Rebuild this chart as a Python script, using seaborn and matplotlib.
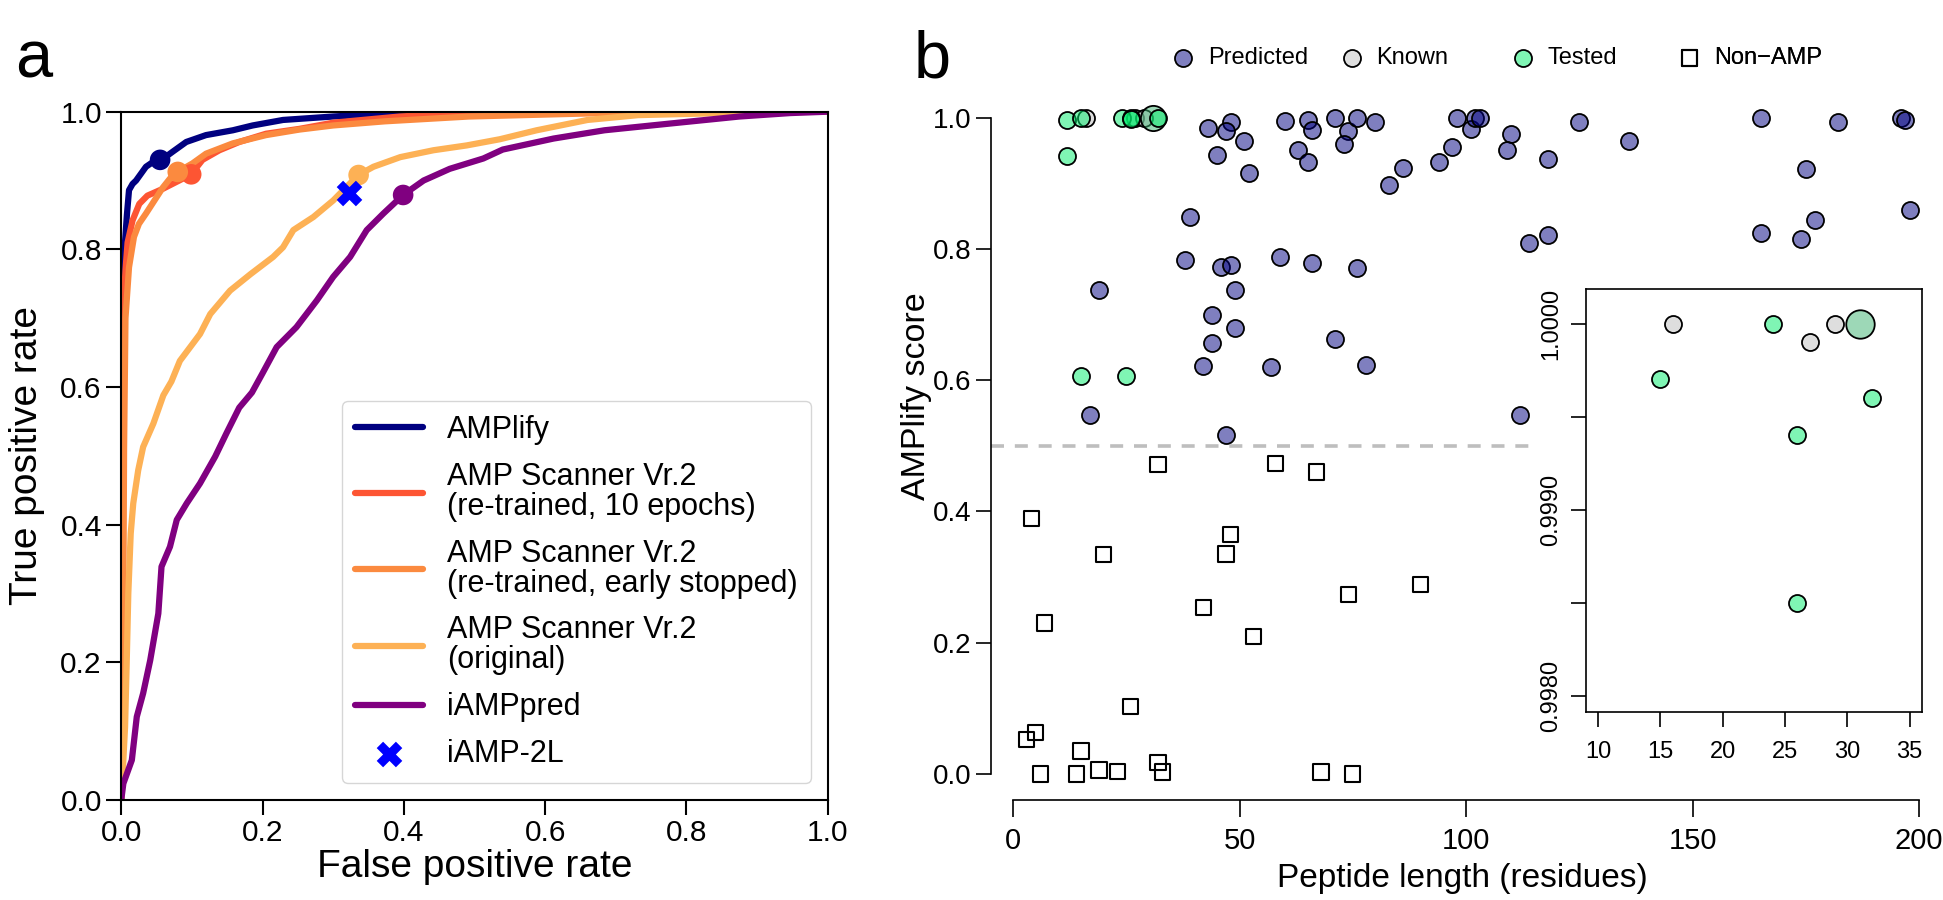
import matplotlib
matplotlib.use("Agg")
import matplotlib.pyplot as plt
import seaborn as sns

# ---- panel a: ROC curves ----
amplify_fpr = [0, 0.001, 0.002, 0.004, 0.008, 0.011, 0.016, 0.021, 0.028, 0.035, 0.045, 0.055,
               0.065, 0.073, 0.092, 0.12, 0.158, 0.186, 0.229, 0.30, 0.394, 0.44, 1.0]
amplify_tpr = [0, 0.45, 0.70, 0.79, 0.85, 0.886, 0.895, 0.90, 0.91, 0.92, 0.927, 0.932,
               0.936, 0.942, 0.956, 0.966, 0.973, 0.98, 0.988, 0.993, 0.998, 1.0, 1.0]

scan10_fpr = [0, 0.002, 0.003, 0.004, 0.006, 0.009, 0.016, 0.0255, 0.037, 0.059, 0.082, 0.099,
              0.115, 0.139, 0.167, 0.205, 0.252, 0.30, 0.394, 0.488, 0.55, 1.0]
scan10_tpr = [0, 0.30, 0.60, 0.73, 0.77, 0.81, 0.842, 0.866, 0.878, 0.888, 0.90, 0.909,
              0.93, 0.944, 0.956, 0.968, 0.975, 0.984, 0.993, 0.998, 1.0, 1.0]

scanes_fpr = [0, 0.003, 0.004, 0.006, 0.011, 0.018, 0.025, 0.035, 0.047, 0.059, 0.073, 0.08,
              0.101, 0.12, 0.158, 0.205, 0.252, 0.30, 0.373, 0.492, 0.683, 0.875, 1.0]
scanes_tpr = [0, 0.30, 0.51, 0.70, 0.774, 0.818, 0.837, 0.852, 0.871, 0.89, 0.908, 0.9125,
              0.925, 0.939, 0.954, 0.966, 0.974, 0.98, 0.986, 0.993, 0.998, 1.0, 1.0]

scanorig_fpr = [0, 0.002, 0.0054, 0.0078, 0.010, 0.0134, 0.017, 0.024, 0.031, 0.0455, 0.0596, 0.071,
                0.083, 0.1115, 0.126, 0.154, 0.183, 0.215, 0.229, 0.2436, 0.272, 0.300, 0.324, 0.3357,
                0.357, 0.395, 0.442, 0.489, 0.536, 0.588, 0.66, 0.7315, 0.875, 1.0]
scanorig_tpr = [0, 0.039, 0.106, 0.203, 0.30, 0.387, 0.431, 0.479, 0.513, 0.547, 0.588, 0.608,
                0.638, 0.677, 0.706, 0.740, 0.764, 0.789, 0.803, 0.828, 0.847, 0.871, 0.896, 0.908,
                0.920, 0.934, 0.944, 0.951, 0.960, 0.973, 0.988, 0.995, 0.9986, 1.0]

iamppred_fpr = [0, 0.003, 0.015, 0.022, 0.031, 0.041, 0.0525, 0.057, 0.069, 0.0786, 0.0927, 0.1115,
                0.133, 0.149, 0.167, 0.185, 0.200, 0.22, 0.248, 0.277, 0.300, 0.324, 0.3475, 0.371,
                0.399, 0.428, 0.465, 0.5125, 0.54, 0.612, 0.684, 0.779, 0.875, 0.947, 1.0]
iamppred_tpr = [0, 0.024, 0.058, 0.121, 0.155, 0.203, 0.271, 0.339, 0.368, 0.407, 0.431, 0.46,
                0.499, 0.533, 0.570, 0.592, 0.620, 0.658, 0.687, 0.726, 0.760, 0.789, 0.828, 0.852,
                0.879, 0.90, 0.917, 0.932, 0.945, 0.961, 0.973, 0.983, 0.993, 0.998, 1.0]

roc_names = ["AMPlify", "AMP Scanner Vr.2\n(re-trained, 10 epochs)",
             "AMP Scanner Vr.2\n(re-trained, early stopped)", "AMP Scanner Vr.2\n(original)", "iAMPpred"]
roc_colors = ["#000080", "#fd5533", "#fb8a3f", "#fdb155", "#800080"]

# operating points (0.5 threshold) on each curve
op_fpr = [0.055, 0.099, 0.08, 0.336, 0.399]
op_tpr = [0.930, 0.909, 0.9125, 0.908, 0.879]

iamp2l_fpr = [0.322]
iamp2l_tpr = [0.882]

# ---- panel b: AMPlify score vs peptide length ----
pred_len = [43, 48, 47, 45, 51, 52, 60, 65, 66, 63, 65, 71, 74, 73, 76, 80, 83, 86, 94, 97,
            98, 101, 102, 103, 110, 109, 118, 125, 136, 165, 182, 196, 197, 175, 198, 177, 165, 174,
            118, 114, 112, 39, 38, 46, 48, 59, 66, 76, 19, 49, 44, 49, 71, 44, 42, 57, 78, 17, 47]
pred_score = [0.985, 0.994, 0.980, 0.944, 0.964, 0.916, 0.995, 0.996, 0.982, 0.951, 0.933, 1.0,
              0.980, 0.960, 0.999, 0.994, 0.898, 0.923, 0.932, 0.955, 1.0, 0.983, 1.0, 1.0, 0.976,
              0.951, 0.937, 0.994, 0.965, 0.999, 0.994, 0.999, 0.997, 0.922, 0.860, 0.844, 0.824,
              0.815, 0.821, 0.809, 0.547, 0.849, 0.783, 0.773, 0.775, 0.788, 0.779, 0.771, 0.738,
              0.737, 0.699, 0.680, 0.663, 0.656, 0.622, 0.620, 0.623, 0.547, 0.517]

known_len = [16, 27, 29]
known_score = [1.0, 0.9999, 1.0]

tested_len = [12, 12, 15, 15, 24, 25, 26, 26, 32]
tested_score = [0.9959, 0.941, 0.9997, 0.606, 1.0, 0.606, 0.9994, 0.9985, 0.9996]

top_len = [31]
top_score = [1.0]

nonamp_len = [32, 58, 67, 4, 48, 47, 20, 90, 74, 42, 7, 53, 26, 5, 3, 15, 32, 33, 6, 14,
              19, 23, 68, 75]
nonamp_score = [0.472, 0.473, 0.46, 0.389, 0.365, 0.335, 0.334, 0.289, 0.273, 0.254, 0.230, 0.209,
                0.103, 0.063, 0.053, 0.035, 0.017, 0.003, 0.0, 0.0, 0.006, 0.004, 0.003, 0.0]

cutoff = 0.5
cutoff_end = 115

pred_color = (0, 0, 0.5, 0.5)
known_color = (0.75, 0.75, 0.75, 0.5)
tested_color = (0.0, 0.93, 0.42, 0.5)
top_color = (0.235, 0.702, 0.443, 0.5)

sns.set_style("ticks", rc={"axes.edgecolor": "black", "xtick.color": "black",
                           "ytick.color": "black", "text.color": "black", "axes.labelcolor": "black"})
plt.rcParams['font.family'] = ['Liberation Sans', 'DejaVu Sans']

fig = plt.figure(figsize=(19.43, 9), dpi=100)

# ---------------- panel a ----------------
ax1 = fig.add_axes([0.0624, 0.1111, 0.3636, 0.7648])
roc_data = [(amplify_fpr, amplify_tpr), (scan10_fpr, scan10_tpr), (scanes_fpr, scanes_tpr),
            (scanorig_fpr, scanorig_tpr), (iamppred_fpr, iamppred_tpr)]
for (fpr, tpr), name, col in zip(roc_data, roc_names, roc_colors):
    sns.lineplot(x=fpr, y=tpr, ax=ax1, color=col, lw=4.5, label=name,
                 sort=False, estimator=None)
sns.scatterplot(x=op_fpr, y=op_tpr, hue=roc_names, palette=roc_colors, s=220,
                linewidth=0, legend=False, ax=ax1, zorder=3)
sns.scatterplot(x=iamp2l_fpr, y=iamp2l_tpr, marker="X", s=340, color="#0000ff",
                linewidth=0, label="iAMP-2L", ax=ax1, zorder=4)

ax1.set_xlim(0, 1)
ax1.set_ylim(0, 1)
ax1.set_xticks([0, 0.2, 0.4, 0.6, 0.8, 1.0])
ax1.set_yticks([0, 0.2, 0.4, 0.6, 0.8, 1.0])
ax1.tick_params(length=11, width=1.5, labelsize=21.5, pad=3)
for sp in ax1.spines.values():
    sp.set_linewidth(1.5)
ax1.set_xlabel("False positive rate", fontsize=28, va="center")
ax1.xaxis.set_label_coords(0.5, -0.097)
ax1.set_ylabel("True positive rate", fontsize=28, va="center")
ax1.yaxis.set_label_coords(-0.133, 0.5)

leg1 = ax1.legend(loc="lower right", bbox_to_anchor=(0.977, 0.025), borderaxespad=0,
                  fontsize=22, frameon=True, fancybox=True, edgecolor="0.8",
                  handlelength=2.2, labelspacing=0.55, borderpad=0.45)
for t in leg1.get_texts():
    t.set_linespacing(1.0)

# ---------------- panel b ----------------
ax2 = fig.add_axes([0.5102, 0.1109, 0.4910, 0.7874])
sns.scatterplot(x=nonamp_len, y=nonamp_score, marker="s", s=121, color="none",
                edgecolor="black", linewidth=1.5, label="Non\u2212AMP", ax=ax2)
sns.scatterplot(x=pred_len, y=pred_score, s=150, color=pred_color, edgecolor="black",
                linewidth=1.3, label="Predicted", ax=ax2)
sns.scatterplot(x=known_len, y=known_score, s=150, color=known_color, edgecolor="black",
                linewidth=1.3, label="Known", ax=ax2)
sns.scatterplot(x=top_len, y=top_score, s=330, color=top_color, edgecolor="black",
                linewidth=1.3, ax=ax2)
sns.scatterplot(x=tested_len, y=tested_score, s=150, color=tested_color, edgecolor="black",
                linewidth=1.3, label="Tested", ax=ax2)
ax2.hlines(cutoff, -4.8, cutoff_end, colors="#bebebe", lw=2.6, linestyles=(0, (3.6, 3.0)), zorder=0)

ax2.set_xlim(-4.8, 205.8)
ax2.set_ylim(-0.04, 1.04)
ax2.spines["top"].set_visible(False)
ax2.spines["right"].set_visible(False)
ax2.spines["left"].set_bounds(0, 1)
ax2.spines["bottom"].set_bounds(0, 200)
for sp in ax2.spines.values():
    sp.set_linewidth(1.2)
ax2.set_xticks([0, 50, 100, 150, 200])
ax2.set_yticks([0, 0.2, 0.4, 0.6, 0.8, 1.0])
ax2.tick_params(axis="x", length=12, width=1.2, labelsize=21, pad=7)
ax2.tick_params(axis="y", length=11, width=1.2, labelsize=20, pad=3)
ax2.set_xlabel("Peptide length (residues)", fontsize=24, va="center")
ax2.xaxis.set_label_coords(0.494, -0.111)
ax2.set_ylabel("AMPlify score", fontsize=24.5, va="center")
ax2.yaxis.set_label_coords(-0.078, 0.57)

# legend on top: one entry per slot, evenly placed like the original
h, l = ax2.get_legend_handles_labels()
hd = dict(zip(l, h))
order = ["Predicted", "Known", "Tested", "Non\u2212AMP"]
slots = [0.1915, 0.3677, 0.5469, 0.7220]
for name, xs in zip(order, slots):
    lg = ax2.legend([hd[name]], [name], loc="center left", bbox_to_anchor=(xs, 1.047),
                    frameon=False, fontsize=17, handlelength=0.8, handletextpad=0.64,
                    borderpad=0, borderaxespad=0)
    ax2.add_artist(lg)

# inset zoom on the top scores
ax3 = fig.add_axes([0.8161, 0.2092, 0.1731, 0.4693])
sns.scatterplot(x=known_len, y=known_score, s=150, color=known_color, edgecolor="black",
                linewidth=1.3, ax=ax3)
sns.scatterplot(x=top_len, y=top_score, s=420, color=top_color, edgecolor="black",
                linewidth=1.3, ax=ax3)
sns.scatterplot(x=tested_len, y=tested_score, s=150, color=tested_color, edgecolor="black",
                linewidth=1.3, ax=ax3)
ax3.set_xlim(9, 36)
ax3.set_ylim(0.997916, 1.000184)
ax3.set_xticks([10, 15, 20, 25, 30, 35])
ax3.set_yticks([0.998, 0.9985, 0.999, 0.9995, 1.0])
ax3.set_yticklabels(["0.9980", "", "0.9990", "", "1.0000"], rotation=90, va="center")
ax3.tick_params(length=11, width=1.2, labelsize=17)
ax3.tick_params(axis="x", pad=10)
ax3.tick_params(axis="y", pad=6)
for sp in ax3.spines.values():
    sp.set_linewidth(1.2)
ax3.set_xlabel("")
ax3.set_ylabel("")

fig.text(0.0077, 0.9144, "a", fontsize=48, va="baseline")
fig.text(0.4704, 0.9144, "b", fontsize=48, va="baseline")

fig.savefig("out.png", dpi=100)
